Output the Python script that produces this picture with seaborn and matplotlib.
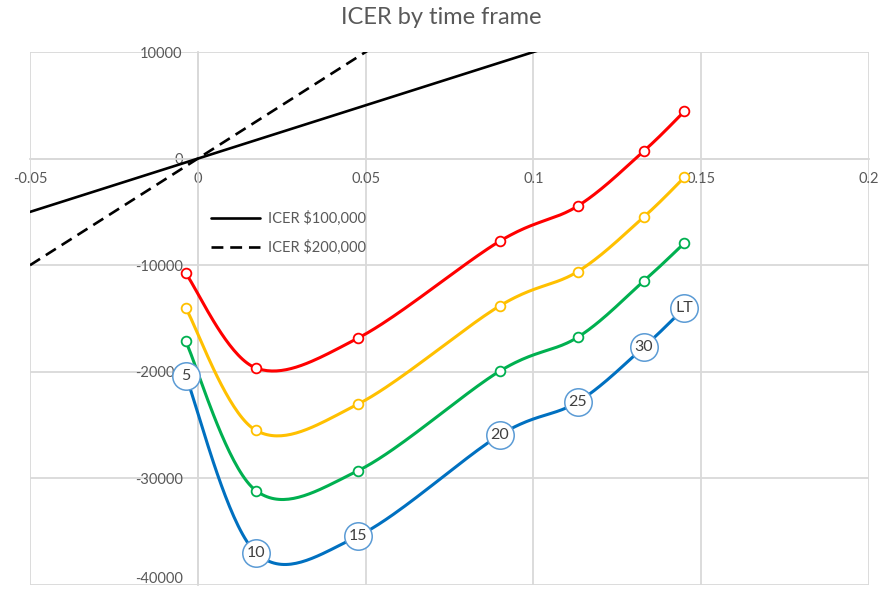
import numpy as np
import pandas as pd
import matplotlib
matplotlib.use("Agg")
import matplotlib.pyplot as plt
import seaborn as sns

# Incremental QALYs (x) shared by every time-frame series
qaly = [-0.0036, 0.0173, 0.0478, 0.0899, 0.1132, 0.1329, 0.1450]

# Incremental costs for each series
cost_red = [-10760, -19640, -16830, -7760, -4450, 710, 4440]
cost_yellow = [-14010, -25490, -23020, -13830, -10600, -5470, -1750]
cost_green = [-17140, -31140, -29270, -19950, -16760, -11480, -7920]
cost_blue = [-20390, -36960, -35400, -25950, -22830, -17670, -14010]

# Time-frame labels written on the blue series
time_labels = ["5", "10", "15", "20", "25", "30", "LT"]

# Willingness-to-pay thresholds
wtp_values = [100000, 200000]
wtp_labels = ["ICER $100,000", "ICER $200,000"]

x_ticks = [-0.05, 0, 0.05, 0.1, 0.15, 0.2]
x_tick_labels = ["-0.05", "0", "0.05", "0.1", "0.15", "0.2"]
y_ticks = [-40000, -30000, -20000, -10000, 0, 10000]
y_tick_labels = ["-40000", "-30000", "-20000", "-10000", "0", "10000"]

series = {
    "A": (cost_red, "#FF0000"),
    "B": (cost_yellow, "#FFC000"),
    "C": (cost_green, "#00B050"),
    "D": (cost_blue, "#0070C0"),
}


def smooth(xs, ys, n=40):
    """Bezier smoothing through every point (Catmull-Rom style control points)."""
    p = np.column_stack([xs, ys]).astype(float)
    out = []
    for i in range(len(p) - 1):
        p0 = p[i - 1] if i > 0 else p[i]
        p1, p2 = p[i], p[i + 1]
        p3 = p[i + 2] if i + 2 < len(p) else p[i + 1]
        c1 = p1 + (p2 - p0) / 6.0
        c2 = p2 - (p3 - p1) / 6.0
        t = np.linspace(0, 1, n)[:, None]
        seg = ((1 - t) ** 3) * p1 + 3 * ((1 - t) ** 2) * t * c1 + 3 * (1 - t) * t ** 2 * c2 + t ** 3 * p2
        out.append(seg if i == 0 else seg[1:])
    out = np.vstack(out)
    return out[:, 0], out[:, 1]


sns.set_theme(style="white")
plt.rcParams["font.family"] = ["Lato", "DejaVu Sans"]

fig = plt.figure(figsize=(8.82, 5.90), dpi=100)
ax = fig.add_axes([30 / 882, 5 / 590, 839 / 882, 533 / 590])

grid_c = "#D9D9D9"
text_c = "#595959"

# Threshold lines
wtp_x = np.array([-0.05, 0.2])
wtp_df = pd.DataFrame({
    "x": np.concatenate([wtp_x, wtp_x]),
    "y": np.concatenate([wtp_x * wtp_values[0], wtp_x * wtp_values[1]]),
    "ICER": [wtp_labels[0]] * 2 + [wtp_labels[1]] * 2,
})
sns.lineplot(data=wtp_df, x="x", y="y", hue="ICER", style="ICER",
             palette=["black", "black"], dashes=[(None, None), (4.5, 2.6)],
             linewidth=1.9, ax=ax, estimator=None, sort=False, zorder=3)

# Smoothed time-frame series
rows = []
for name, (vals, col) in series.items():
    sx, sy = smooth(qaly, vals)
    rows.append(pd.DataFrame({"x": sx, "y": sy, "s": name}))
curve_df = pd.concat(rows, ignore_index=True)
palette = {k: v[1] for k, v in series.items()}
sns.lineplot(data=curve_df, x="x", y="y", hue="s", palette=palette,
             linewidth=2.2, ax=ax, estimator=None, sort=False, legend=False, zorder=4)

# Markers
for name in ["A", "B", "C"]:
    vals, col = series[name]
    ax.plot(qaly, vals, linestyle="none", marker="o", markersize=7,
            markerfacecolor="white", markeredgecolor=col, markeredgewidth=1.3, zorder=5)

# Labelled circles on the blue series
ax.scatter(qaly, cost_blue, s=390, facecolor="white", edgecolor="#5B9BD5",
           linewidth=1.1, zorder=6)
for xv, yv, lab in zip(qaly, cost_blue, time_labels):
    ax.text(xv, yv, lab, ha="center", va="center", fontsize=11.5,
            color="#404040", zorder=7)

ax.set_xlim(-0.05, 0.2)
ax.set_ylim(-40000, 10000)
ax.set_xticks(x_ticks)
ax.set_yticks(y_ticks)
ax.set_xticklabels(x_tick_labels)
# the lowest label is written separately, nudged up to stay inside the figure
ax.set_yticklabels([""] + y_tick_labels[1:])
ax.annotate(y_tick_labels[0], xy=(0, y_ticks[0]), xytext=(-15, 6),
            textcoords="offset pixels", ha="right", va="center",
            fontsize=10.5, color=text_c, annotation_clip=False, zorder=0.5)
ax.set_xlabel("")
ax.set_ylabel("")

ax.set_axisbelow(True)
ax.grid(True, color=grid_c, linewidth=1.3)
for side in ["top", "right"]:
    ax.spines[side].set_visible(False)
ax.spines["left"].set_position(("data", 0))
ax.spines["bottom"].set_position(("data", 0))
for side in ["left", "bottom"]:
    ax.spines[side].set_color(grid_c)
    ax.spines[side].set_linewidth(1.3)
ax.tick_params(axis="both", length=0, labelsize=10.5, labelcolor=text_c)
ax.tick_params(axis="x", pad=10)
ax.tick_params(axis="y", pad=11)

leg = ax.legend(loc="center left", bbox_to_anchor=(0.2154, 0.661), frameon=False,
                borderpad=0, borderaxespad=0, handlelength=3.4, handletextpad=0.5,
                labelspacing=0.95, fontsize=10.5)
for t in leg.get_texts():
    t.set_color(text_c)

fig.text(0.5, 1 - 18 / 590, "ICER by time frame", ha="center", va="center",
         fontsize=17, color=text_c)

fig.savefig("out.png", dpi=100, facecolor="white")
